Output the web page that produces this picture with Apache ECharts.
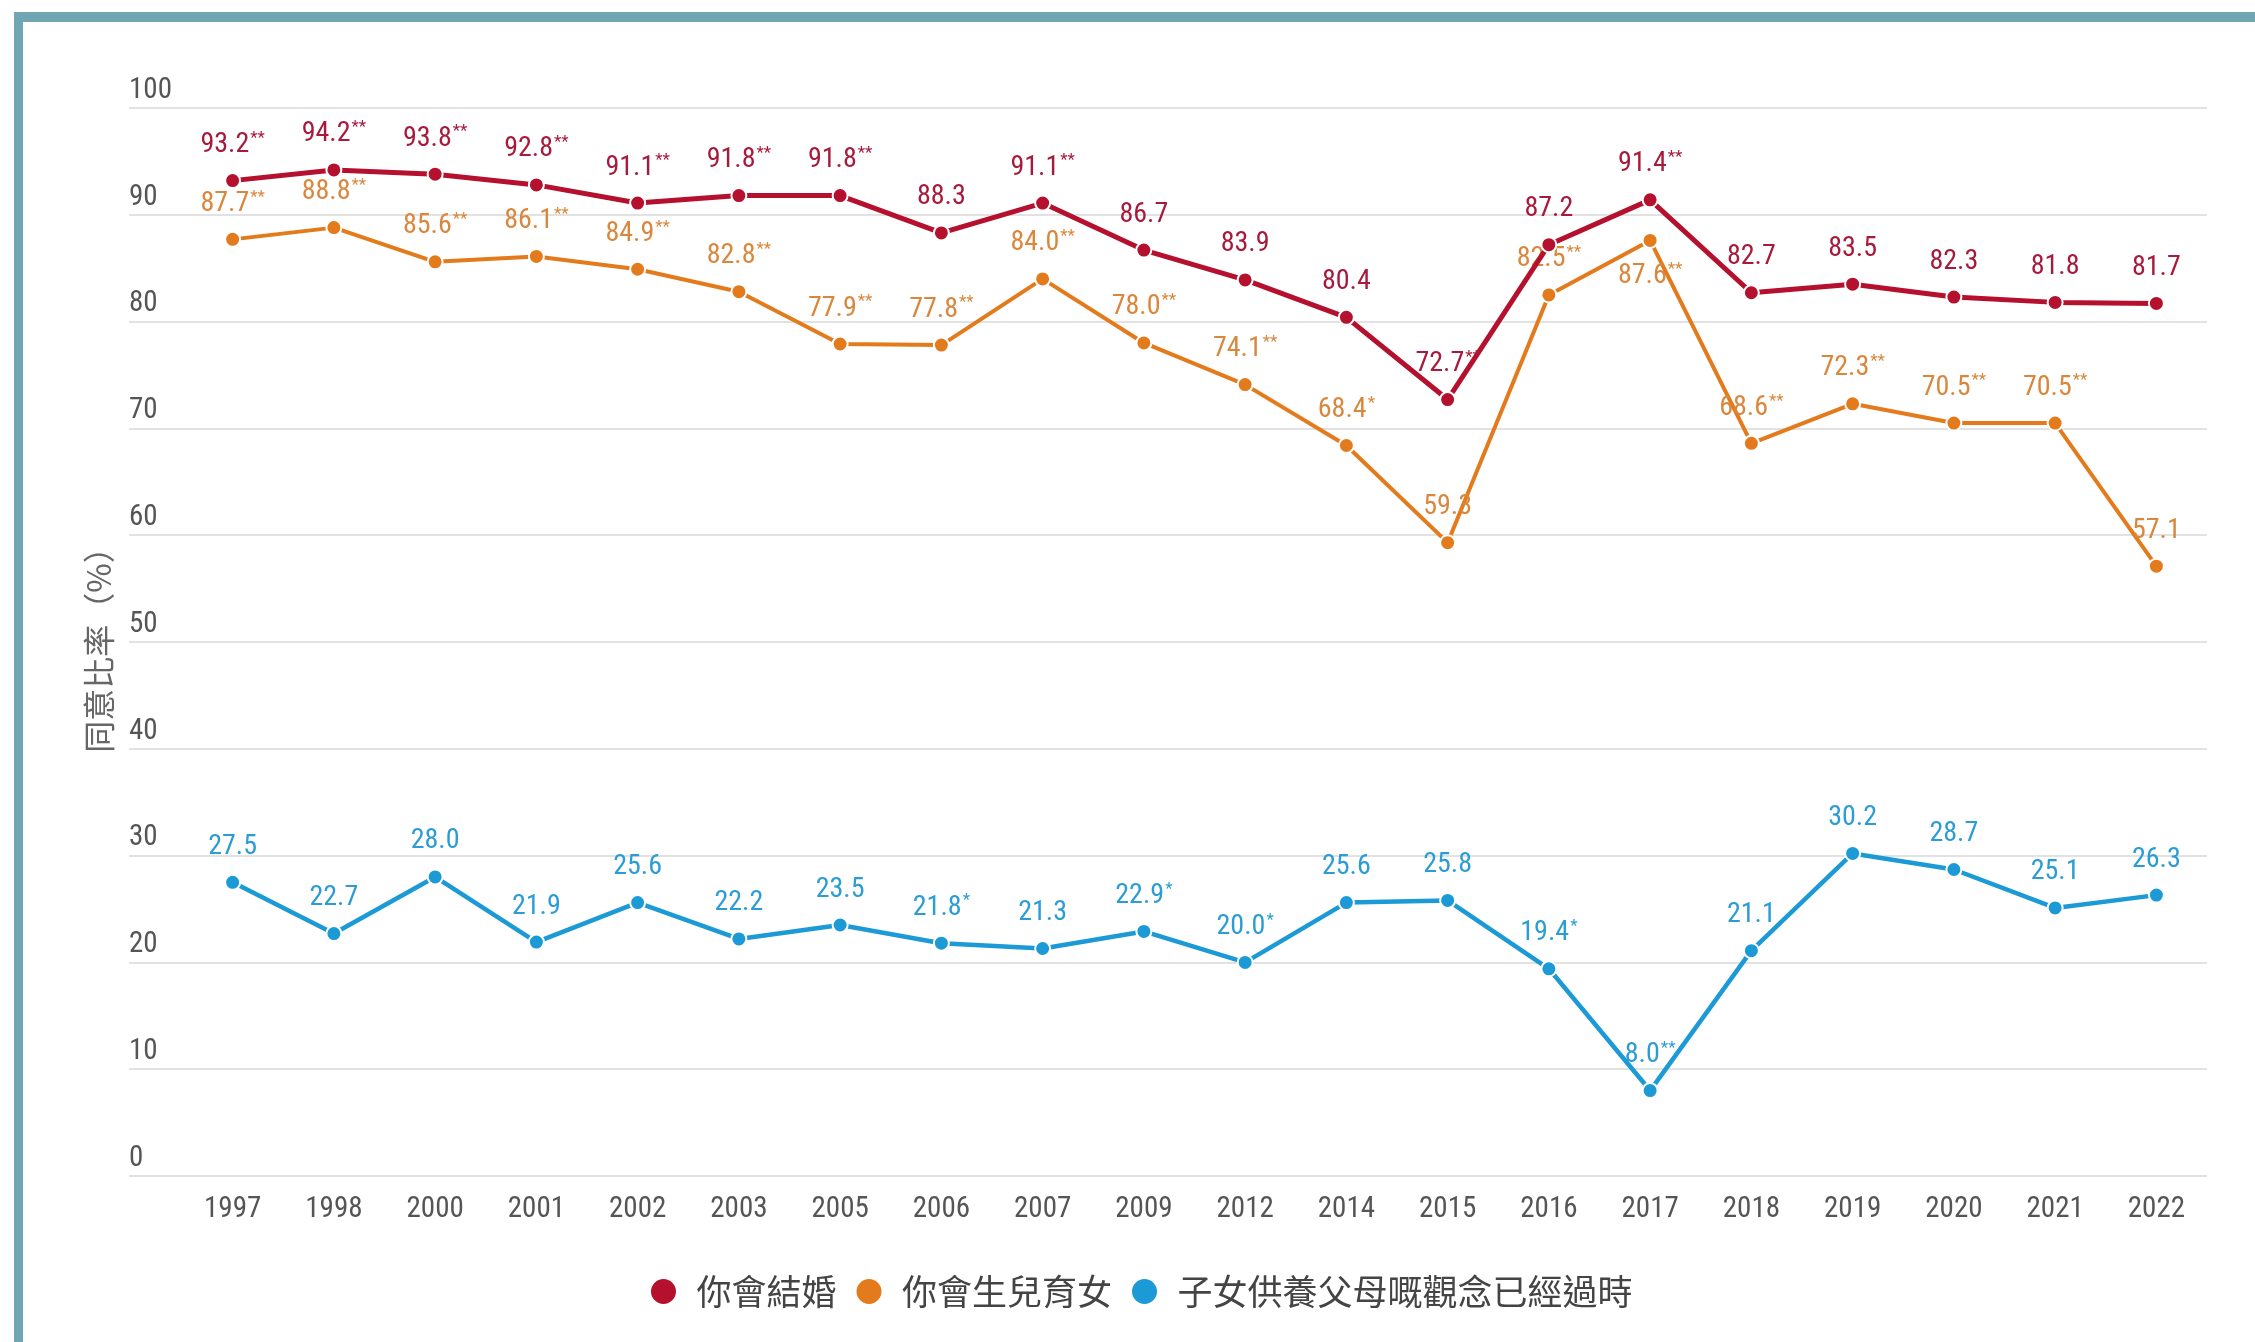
<!DOCTYPE html>
<html>
<head>
<meta charset="utf-8">
<script src="https://cdn.jsdelivr.net/npm/echarts@6/dist/echarts.min.js"></script>
<style>
html,body{margin:0;padding:0;background:#fff;}
#chart{width:2255px;height:1342px;}
</style>
</head>
<body>
<div id="chart"></div>
<script>
// ---- data ----
var years = ['1997','1998','2000','2001','2002','2003','2005','2006','2007','2009','2012','2014','2015','2016','2017','2018','2019','2020','2021','2022'];
var seriesNames = ['你會結婚', '你會生兒育女', '子女供養父母嘅觀念已經過時'];
var marry = [93.2, 94.2, 93.8, 92.8, 91.1, 91.8, 91.8, 88.3, 91.1, 86.7, 83.9, 80.4, 72.7, 87.2, 91.4, 82.7, 83.5, 82.3, 81.8, 81.7];
var marrySig = ['**','**','**','**','**','**','**','','**','','','','**','','**','','','','',''];
var children = [87.7, 88.8, 85.6, 86.1, 84.9, 82.8, 77.9, 77.8, 84.0, 78.0, 74.1, 68.4, 59.3, 82.5, 87.6, 68.6, 72.3, 70.5, 70.5, 57.1];
var childrenSig = ['**','**','**','**','**','**','**','**','**','**','**','*','','**','**','**','**','**','**',''];
var support = [27.5, 22.7, 28.0, 21.9, 25.6, 22.2, 23.5, 21.8, 21.3, 22.9, 20.0, 25.6, 25.8, 19.4, 8.0, 21.1, 30.2, 28.7, 25.1, 26.3];
var supportSig = ['','','','','','','','*','','*','*','','','*','**','','','','',''];
var yTicks = {min: 0, max: 100, interval: 10};
var yName = '同意比率（%）';

// ---- styles ----
var NUM_FONT = '"Roboto Condensed", "Noto Sans", sans-serif';
var CJK_FONT = '"Noto Sans CJK TC", "Noto Sans CJK SC", sans-serif';
var colors = ['#b5102e', '#e37b1d', '#1b9ad6'];
var labelColors = ['#a81a3b', '#d9873c', '#2b9cd4'];

function makeLabel(idx, sig) {
  return {
    show: true,
    position: 'top',
    distance: 12,
    formatter: function (p) {
      var s = sig[p.dataIndex];
      return '{v|' + Number(p.value).toFixed(1) + '}' + (s ? '{s|' + s + '}' : '');
    },
    rich: {
      v: {fontSize: 28, fontFamily: NUM_FONT, color: labelColors[idx], lineHeight: 30},
      s: {fontSize: 17, fontFamily: NUM_FONT, color: labelColors[idx], verticalAlign: 'top', lineHeight: 30, padding: [0, 0, 12, 1]}
    }
  };
}

function makeSeries(idx, vals, sig, width, belowYears) {
  var data = vals.map(function (v, i) {
    if (belowYears && belowYears.indexOf(years[i]) >= 0) {
      return {value: v, label: {position: 'bottom'}};
    }
    return v;
  });
  return {
    name: seriesNames[idx],
    type: 'line',
    xAxisIndex: 1,
    yAxisIndex: 1,
    data: data,
    symbol: 'circle',
    symbolSize: 15,
    lineStyle: {color: colors[idx], width: width},
    itemStyle: {color: colors[idx], borderColor: '#fff', borderWidth: 2},
    label: makeLabel(idx, sig),
    emphasis: {disabled: true},
    z: 3 - idx
  };
}

var chart = echarts.init(document.getElementById('chart'), null, {renderer: 'canvas'});
var option = {
  animation: false,
  backgroundColor: '#fff',
  color: colors,
  graphic: [
    {type: 'rect', shape: {x: 14, y: 12, width: 2241, height: 10}, style: {fill: '#70a6b4'}, silent: true},
    {type: 'rect', shape: {x: 14, y: 12, width: 9, height: 1330}, style: {fill: '#70a6b4'}, silent: true}
  ],
  grid: [
    {left: 129, right: 48, top: 108, bottom: 166},
    {left: 182, right: 48, top: 108, bottom: 166}
  ],
  xAxis: [
    {gridIndex: 0, type: 'value', show: false, min: 0, max: 1},
    {
      gridIndex: 1, type: 'category', data: years, boundaryGap: true,
      axisLine: {show: false}, axisTick: {show: false},
      axisLabel: {fontSize: 29, fontFamily: NUM_FONT, color: '#555', margin: 19}
    }
  ],
  yAxis: [
    {
      gridIndex: 0, type: 'value', min: yTicks.min, max: yTicks.max, interval: yTicks.interval,
      axisLine: {show: false}, axisTick: {show: false},
      splitLine: {show: true, lineStyle: {color: '#e2e2e2', width: 2}},
      axisLabel: {inside: true, margin: 0, fontSize: 29, fontFamily: NUM_FONT, color: '#555', verticalAlign: 'bottom', padding: [0, 0, 3, 0]},
      name: yName, nameLocation: 'middle', nameRotate: 90, nameGap: 14,
      nameTextStyle: {fontSize: 32, fontFamily: CJK_FONT, color: '#666'}
    },
    {gridIndex: 1, type: 'value', min: yTicks.min, max: yTicks.max, interval: yTicks.interval, show: false, splitLine: {show: false}}
  ],
  legend: {
    data: seriesNames,
    bottom: 28,
    left: 644,
    icon: 'circle',
    itemWidth: 56,
    itemHeight: 27,
    itemGap: 18,
    textStyle: {fontSize: 35, fontFamily: CJK_FONT, color: '#444'}
  },
  series: [
    makeSeries(0, marry, marrySig, 5, null),
    makeSeries(1, children, childrenSig, 4, ['2017']),
    makeSeries(2, support, supportSig, 4.5, null)
  ]
};
chart.setOption(option);
</script>
</body>
</html>
